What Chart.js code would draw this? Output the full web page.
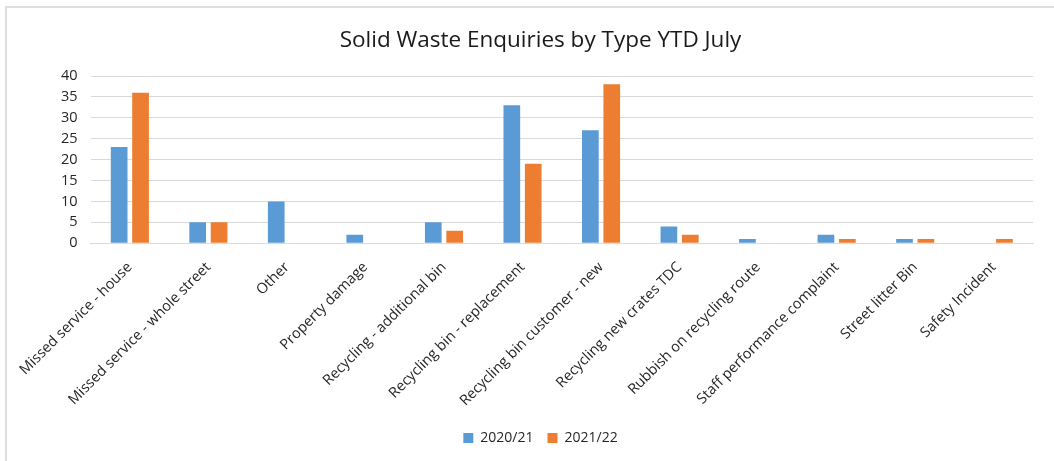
<!DOCTYPE html>
<html>
<head>
<meta charset="utf-8">
<script src="https://cdn.jsdelivr.net/npm/chart.js@4"></script>
<style>
  html, body { margin: 0; padding: 0; background: #fff; }
  #wrap {
    position: absolute; left: 5px; top: 6px; width: 1049px; height: 455px;
    border-left: 2px solid #dedede; border-top: 2px solid #dedede;
    box-sizing: border-box;
  }
</style>
</head>
<body>
<div id="wrap"><canvas id="chart"></canvas></div>
<script>
// Catégories et valeurs
const categories = [
    'Missed service - house',
    'Missed service - whole street',
    'Other',
    'Property damage',
    'Recycling - additional bin',
    'Recycling bin - replacement',
    'Recycling bin customer - new',
    'Recycling new crates TDC',
    'Rubbish on recycling route',
    'Staff performance complaint',
    'Street litter Bin',
    'Safety Incident'
];
const series2020 = [23, 5, 10, 2, 5, 33, 27, 4, 1, 2, 1, 0];
const series2021 = [36, 5, 0, 0, 3, 19, 38, 2, 0, 1, 1, 1];
const seriesLabels = ['2020/21', '2021/22'];

const fontFamily = "'Open Sans', 'Liberation Sans', sans-serif";

const ctx = document.getElementById('chart').getContext('2d');
new Chart(ctx, {
    type: 'bar',
    data: {
        labels: categories,
        datasets: [{
            label: seriesLabels[0],
            data: series2020,
            backgroundColor: '#5b9bd5',
            borderWidth: 0
        }, {
            label: seriesLabels[1],
            data: series2021,
            backgroundColor: '#ed7d31',
            borderWidth: 0
        }]
    },
    options: {
        responsive: true,
        maintainAspectRatio: false,
        animation: false,
        categoryPercentage: 0.545,
        barPercentage: 0.78,
        layout: {
            padding: { left: 41, right: 21, top: 15, bottom: 6 }
        },
        plugins: {
            title: {
                display: true,
                text: 'Solid Waste Enquiries by Type YTD July',
                color: '#1a1a1a',
                font: { family: fontFamily, size: 22.5, weight: 'normal' },
                padding: { top: 4, bottom: 22 }
            },
            legend: {
                position: 'bottom',
                labels: {
                    color: '#262626',
                    font: { family: fontFamily, size: 14 },
                    boxWidth: 10,
                    boxHeight: 10,
                    padding: 14
                }
            },
            tooltip: { enabled: false }
        },
        scales: {
            y: {
                min: 0,
                max: 40,
                ticks: {
                    stepSize: 5,
                    autoSkip: false,
                    color: '#262626',
                    font: { family: fontFamily, size: 14.5 },
                    padding: 13
                },
                grid: { color: '#d9d9d9', drawTicks: false },
                border: { display: false }
            },
            x: {
                ticks: {
                    color: '#262626',
                    font: { family: fontFamily, size: 14.5 },
                    minRotation: 45,
                    maxRotation: 45,
                    autoSkip: false,
                    padding: 7.5
                },
                grid: { display: false },
                border: { color: '#d9d9d9' }
            }
        }
    }
});
</script>
</body>
</html>
